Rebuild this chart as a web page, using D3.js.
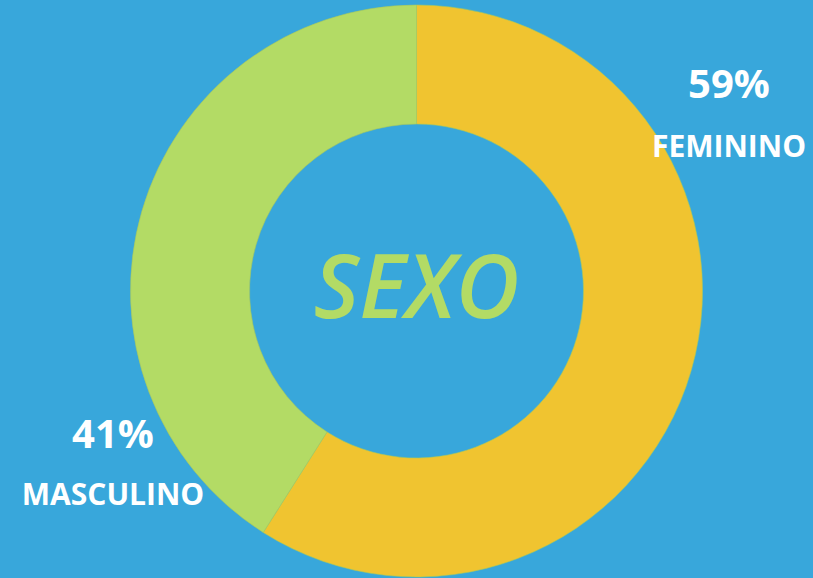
<!DOCTYPE html>
<html lang="es">
<head>
  <meta charset="UTF-8">
  <title>Sexo</title>
  <script src="https://d3js.org/d3.v7.min.js"></script>
  <style>
    body { margin: 0; background: #38a7db; overflow: hidden; }
    svg { display: block; font-family: "Open Sans", sans-serif; }
  </style>
</head>
<body>
  <div id="chart"></div>
  <script>
    const categories = ["FEMININO", "MASCULINO"];
    const values = [59, 41];
    const colors = ["#f0c430", "#b3db65"];
    const title = "SEXO";

    const W = 813, H = 578;
    const cx = 416.5, cy = 291;
    const outerR = 286, innerR = 167;

    const data = categories.map((c, i) => ({ name: c, value: values[i] }));

    const svg = d3.select("#chart").append("svg")
      .attr("width", W)
      .attr("height", H);

    svg.append("rect").attr("width", W).attr("height", H).attr("fill", "#38a7db");

    const g = svg.append("g").attr("transform", `translate(${cx},${cy})`);

    const pie = d3.pie().sort(null).value(d => d.value);
    const arc = d3.arc().innerRadius(innerR).outerRadius(outerR);
    const color = d3.scaleOrdinal().domain(categories).range(colors);

    g.selectAll("path")
      .data(pie(data))
      .join("path")
      .attr("d", arc)
      .attr("fill", d => color(d.data.name))
      .attr("stroke", "#a9c95a")
      .attr("stroke-width", 0.6);

    g.append("text")
      .attr("x", 0)
      .attr("y", 27)
      .attr("text-anchor", "middle")
      .attr("fill", colors[1])
      .style("font-size", "88px")
      .style("font-weight", 600)
      .style("font-style", "italic")
      .text(title);

    // label positions (absolute page coords)
    const labelPos = [
      { x: 729, y1: 98, y2: 157 },
      { x: 113, y1: 448, y2: 505 }
    ];

    const labels = svg.selectAll("g.label")
      .data(data)
      .join("g")
      .attr("class", "label")
      .attr("transform", (d, i) => `translate(${labelPos[i].x},0)`);

    labels.append("text")
      .attr("y", (d, i) => labelPos[i].y1)
      .attr("text-anchor", "middle")
      .attr("fill", "#fff")
      .style("font-size", "40px")
      .style("font-weight", 700)
      .text(d => d.value + "%");

    labels.append("text")
      .attr("y", (d, i) => labelPos[i].y2)
      .attr("text-anchor", "middle")
      .attr("fill", "#fff")
      .style("font-size", "30px")
      .style("font-weight", 700)
      .text(d => d.name);
  </script>
</body>
</html>
